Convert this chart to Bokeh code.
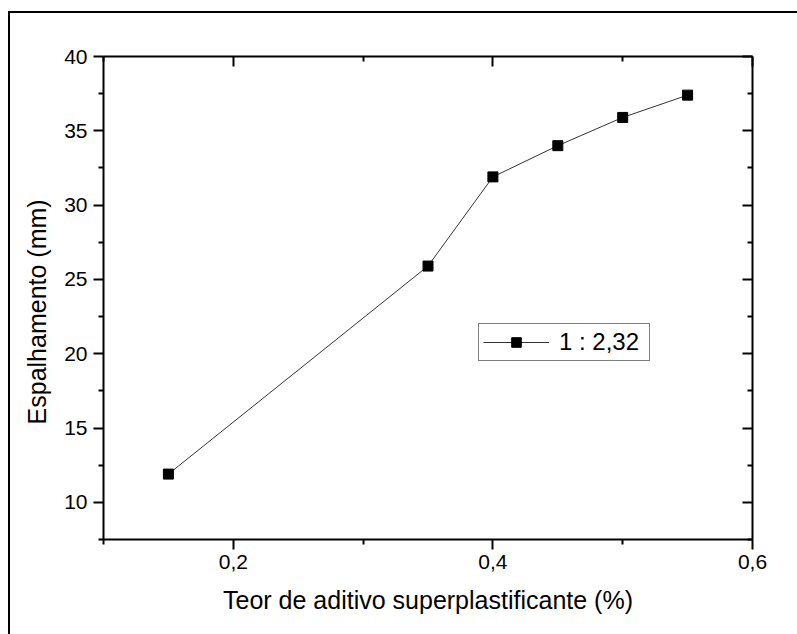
from bokeh.plotting import figure
from bokeh.models import (LinearAxis, FixedTicker, CustomJSTickFormatter, Legend,
                          LegendItem, Range1d)
from bokeh.layouts import column
from bokeh.embed import file_html
from bokeh.resources import INLINE

# data
x_values = [0.15, 0.35, 0.40, 0.45, 0.50, 0.55]
y_values = [11.9, 25.9, 31.9, 34.0, 35.9, 37.4]
series_label = "1 : 2,32"
x_major = [0.2, 0.4, 0.6]
x_minor = [0.1, 0.3, 0.5]
y_major = [10, 15, 20, 25, 30, 35, 40]
y_minor = [7.5, 12.5, 17.5, 22.5, 27.5, 32.5, 37.5]
x_title = "Teor de aditivo superplastificante (%)"
y_title = "Espalhamento (mm)"

FONT = "Liberation Sans"

p = figure(width=787, height=621, output_backend="svg", toolbar_location=None,
           x_range=Range1d(0.1, 0.6), y_range=Range1d(7.5, 40),
           x_axis_location=None, y_axis_location=None,
           min_border_left=93, min_border_right=45, min_border_top=43, min_border_bottom=95)
p.outline_line_color = None
p.xgrid.visible = False
p.ygrid.visible = False

fmt_x = CustomJSTickFormatter(code="return tick.toFixed(1).replace('.', ',');")
blank = CustomJSTickFormatter(code="return '';")

def style(ax, labels=True, inward=False):
    ax.axis_line_width = 2
    ax.axis_line_color = "black"
    ax.major_tick_line_width = 2
    ax.minor_tick_line_width = 2
    if inward:
        ax.major_tick_in = 10
        ax.major_tick_out = 0
        ax.minor_tick_in = 5
        ax.minor_tick_out = 0
    else:
        ax.major_tick_in = 0
        ax.major_tick_out = 10
        ax.minor_tick_in = 0
        ax.minor_tick_out = 5
    ax.major_label_text_font = FONT
    ax.major_label_text_color = "black"
    ax.major_label_text_font_size = "21px" if labels else "0px"
    ax.axis_label_text_font = FONT
    ax.axis_label_text_font_style = "normal"
    ax.axis_label_text_color = "black"

xb = LinearAxis(ticker=FixedTicker(ticks=x_major, minor_ticks=x_minor), formatter=fmt_x,
                axis_label=x_title)
style(xb)
xb.axis_label_text_font_size = "25px"
xb.axis_label_standoff = 14
xb.major_label_standoff = 5
p.add_layout(xb, "below")

yl = LinearAxis(ticker=FixedTicker(ticks=y_major, minor_ticks=y_minor),
                axis_label=y_title + "\u00a0\u00a0\u00a0\u00a0")
style(yl)
yl.axis_label_text_font_size = "25px"
yl.axis_label_standoff = 10
yl.major_label_standoff = 6
p.add_layout(yl, "left")

xt = LinearAxis(ticker=FixedTicker(ticks=x_major, minor_ticks=x_minor), formatter=blank)
style(xt, labels=False, inward=True)
p.add_layout(xt, "above")

yr = LinearAxis(ticker=FixedTicker(ticks=y_major, minor_ticks=y_minor), formatter=blank)
style(yr, labels=False, inward=True)
p.add_layout(yr, "right")

line_r = p.line(x_values, y_values, line_color="#333333", line_width=1)
pts_r = p.scatter(x_values, y_values, marker="square", size=10,
                  fill_color="black", line_color="black")

legend = Legend(items=[LegendItem(label=series_label, renderers=[line_r, pts_r])],
                location=(375, 178))
legend.label_text_font = FONT
legend.label_text_font_size = "24px"
legend.label_text_color = "black"
legend.glyph_width = 66
legend.glyph_height = 24
legend.label_height = 24
legend.label_width = 86
legend.label_standoff = 10
legend.padding = 4
legend.margin = 0
legend.spacing = 0
legend.border_line_color = "black"
legend.border_line_width = 1
legend.background_fill_alpha = 1
p.add_layout(legend, "center")

layout = column(p, margin=(11, 0, 0, 8),
                styles={"border-top": "2px solid black", "border-left": "2px solid black"})

open("out.html", "w").write(file_html(layout, INLINE))
